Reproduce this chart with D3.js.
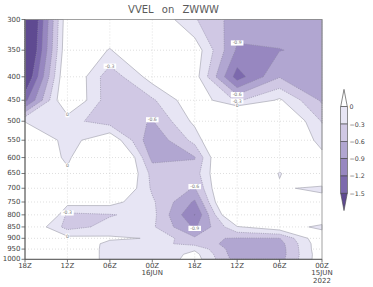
<!DOCTYPE html>
<html><head><meta charset="utf-8">
<script src="https://cdn.jsdelivr.net/npm/d3@7"></script>
<style>body{margin:0;background:#fff;} svg{display:block;}</style>
</head><body>
<svg id="chart" width="373" height="287"></svg>
<script>
// ---------- data ----------
const levels = [300,350,400,450,500,550,600,650,700,750,800,850,900,925,950,975,1000];
const yTickValues = [300,350,400,450,500,550,600,650,700,750,800,850,900,950,1000];
const times = ["2022-06-16T18:00Z","2022-06-16T12:00Z","2022-06-16T06:00Z","2022-06-16T00:00Z",
               "2022-06-15T18:00Z","2022-06-15T12:00Z","2022-06-15T06:00Z","2022-06-15T00:00Z"];
const timeLabels = ["18Z","12Z","06Z","00Z","18Z","12Z","06Z","00Z"];
const dateLabels = ["","","","16JUN","","","","15JUN"];
const yearLabels = ["","","","","","","","2022"];

// VVEL (Pa/s) per time column, levels top (300) to bottom (1000)
const vvel_16Jun18Z = [-2.3,-2.2,-1.9,-1.3,-0.02,0.5,0.6,0.6,0.8,1.0,1.5,0.42,0.5,0.5,0.5,0.5,0.5];
const vvel_16Jun12Z = [0.25,0.3,0.4,0.42,-0.2,-0.15,-0.1,0.1,0.4,0.14,-0.38,-0.42,0.1,0.3,0.3,0.3,0.3];
const vvel_16Jun06Z = [0.3,-0.02,-0.5,-0.5,-0.45,0.3,1.0,0.8,0.6,0.12,-0.32,-0.2,0.05,-0.09,-0.1,-0.1,-0.1];
const vvel_16Jun00Z = [0.3,0.4,0.14,-0.35,-0.62,-0.85,-0.7,-0.4,-0.35,-0.25,-0.2,-0.25,-0.02,-0.2,-0.25,-0.28,-0.28];
const vvel_15Jun18Z = [-0.27,0.2,0.15,0.25,0.08,-0.2,-0.62,-0.45,-0.62,-0.95,-1.22,-0.95,-0.55,-0.4,-0.05,0.1,0.15];
const vvel_15Jun12Z = [-0.75,-0.95,-1.35,-0.35,1.0,1.0,1.0,0.8,0.9,1.0,0.68,-0.03,-0.62,-0.75,-0.8,-0.8,-0.75];
const vvel_15Jun06Z = [-0.75,-0.91,-0.62,0.05,0.5,0.5,0.3,-0.03,0.06,0.3,0.4,0.22,-0.61,-0.72,-0.75,-0.75,-0.72];
const vvel_15Jun00Z = [-0.8,-0.82,-0.8,-0.65,-0.32,-0.12,0.1,0.57,-0.1,0.2,0.4,-0.1,0.3,0.25,0.25,0.22,0.22];

const contourLevels = [0,-0.3,-0.6,-0.9,-1.2,-1.5];
const bandColors = ["#e7e5f4","#d0c8e4","#b1a6d1","#9787c0","#7c69ad","#5f4a91"];
const colorbarLabels = ["0","\u22120.3","\u22120.6","\u22120.9","\u22121.2","\u22121.5"];

// contour labels: column index, contour level, approximate pressure where it is written
const labelCols   = [2,3,5,5,5,5,4,4,1,1,1,1];
const labelLevels = [-0.3,-0.6,-0.9,-0.6,-0.3,0,-0.6,-0.9,-0.3,0,0,0];
const labelNearP  = [380,500,340,435,455,465,700,860,790,480,625,890];

// ---------- drawing ----------
const columns = [vvel_16Jun18Z,vvel_16Jun12Z,vvel_16Jun06Z,vvel_16Jun00Z,
                 vvel_15Jun18Z,vvel_15Jun12Z,vvel_15Jun06Z,vvel_15Jun00Z];
const tDates = times.map(t => new Date(t));
const svg = d3.select("#chart");
const L = 25, R = 322, T = 19.5, B = 259.3;
const x = d3.scaleUtc().domain([tDates[0], tDates[tDates.length-1]]).range([L, R]);
const y = d3.scaleLog().domain([1000, 300]).range([B, T]);

const nx = columns.length, ny = levels.length;
const grid = new Array(nx*ny);
for (let r = 0; r < ny; r++) for (let c = 0; c < nx; c++) grid[r*nx + c] = -columns[c][r];

const t0 = tDates[0].getTime(), step = tDates[1].getTime() - tDates[0].getTime();
function gx(cx) { const i = Math.max(0, Math.min(nx-1, cx - 0.5)); return x(new Date(t0 + i*step)); }
function gy(cy) {
  const r = Math.max(0, Math.min(ny-1, cy - 0.5));
  const i0 = Math.min(Math.floor(r), ny-2), f = r - i0;
  return y(levels[i0] + f*(levels[i0+1] - levels[i0]));
}
const path = d3.geoPath(d3.geoTransform({ point(px, py) { this.stream.point(gx(px), gy(py)); } }));

// grid lines (under fills)
const gridG = svg.append("g").attr("stroke", "#c9c9c9").attr("stroke-width", 0.6).attr("stroke-dasharray", "1,2");
tDates.slice(1, -1).forEach(d => gridG.append("line").attr("x1", x(d)).attr("x2", x(d)).attr("y1", T).attr("y2", B));
yTickValues.filter(v => v !== 300 && v !== 1000).forEach(v =>
  gridG.append("line").attr("x1", L).attr("x2", R).attr("y1", y(v)).attr("y2", y(v)));

const bands = d3.contours().size([nx, ny]).thresholds(contourLevels.map(v => -v))(grid);
const fillG = svg.append("g");
bands.forEach((b, i) => {
  fillG.append("path").attr("d", path(b)).attr("fill", bandColors[i]).attr("fill-rule", "evenodd");
});
const lineG = svg.append("g").attr("fill", "none");
bands.forEach((b, i) => {
  const p = lineG.append("path").attr("d", path(b));
  if (i === 0) p.attr("stroke", "#a9a9b4").attr("stroke-width", 0.7);
  else p.attr("stroke", "#8f8aa3").attr("stroke-width", 0.6).attr("stroke-dasharray", "1.2,1");
});

// contour labels
function crossing(col, level, nearP) {
  let best = null;
  for (let r = 0; r < ny-1; r++) {
    const v0 = col[r], v1 = col[r+1];
    if ((v0 - level)*(v1 - level) <= 0 && v0 !== v1) {
      const f = (level - v0)/(v1 - v0);
      const p = levels[r] + f*(levels[r+1] - levels[r]);
      if (best === null || Math.abs(p - nearP) < Math.abs(best - nearP)) best = p;
    }
  }
  return best;
}
const labG = svg.append("g").attr("font-family", "DejaVu Sans, sans-serif").attr("font-size", 4.6);
labelCols.forEach((c, i) => {
  const p = crossing(columns[c], labelLevels[i], labelNearP[i]);
  if (p === null) return;
  const cx = x(tDates[c]), cy = y(p);
  const txt = labelLevels[i] === 0 ? "0" : "-" + Math.abs(labelLevels[i]).toFixed(1);
  const w = txt.length * 2.9 + 1;
  labG.append("rect").attr("x", cx - w/2).attr("y", cy - 2.6).attr("width", w).attr("height", 5.2).attr("fill", "#fff");
  labG.append("text").attr("x", cx).attr("y", cy).attr("text-anchor", "middle").attr("dominant-baseline", "central")
    .attr("fill", "#777").text(txt);
});

// frame
svg.append("rect").attr("x", L).attr("y", T).attr("width", R - L).attr("height", B - T)
  .attr("fill", "none").attr("stroke", "#8a8a8a").attr("stroke-width", 0.8);

// axes
const axG = svg.append("g").attr("font-family", "DejaVu Sans, sans-serif").attr("font-size", 7).attr("fill", "#444");
axG.append("line").attr("x1", L).attr("x2", L).attr("y1", T).attr("y2", B).attr("stroke", "#555").attr("stroke-width", 0.9);
axG.append("line").attr("x1", L).attr("x2", R).attr("y1", B).attr("y2", B).attr("stroke", "#555").attr("stroke-width", 0.9);
yTickValues.forEach(v => {
  axG.append("line").attr("x1", L - 3.5).attr("x2", L).attr("y1", y(v)).attr("y2", y(v)).attr("stroke", "#555").attr("stroke-width", 0.8);
  axG.append("text").attr("x", L - 4.5).attr("y", y(v)).attr("text-anchor", "end").attr("dominant-baseline", "central").text(v);
});
tDates.forEach((d, i) => {
  const px = x(d);
  axG.append("line").attr("x1", px).attr("x2", px).attr("y1", B).attr("y2", B + 3).attr("stroke", "#555").attr("stroke-width", 0.8);
  axG.append("text").attr("x", px).attr("y", B + 8.2).attr("text-anchor", "middle").text(timeLabels[i]);
  if (dateLabels[i]) axG.append("text").attr("x", px).attr("y", B + 15.6).attr("text-anchor", "middle").text(dateLabels[i]);
  if (yearLabels[i]) axG.append("text").attr("x", px).attr("y", B + 23.2).attr("text-anchor", "middle").text(yearLabels[i]);
});

// title
svg.append("text").attr("x", (L + R)/2).attr("y", 13).attr("text-anchor", "middle")
  .attr("font-family", "DejaVu Sans, sans-serif").attr("font-size", 10).attr("fill", "#5a5a5a")
  .style("word-spacing", "5px").text("VVEL on ZWWW");

// colorbar
const cbX0 = 340.7, cbX1 = 347.3, cbMid = (cbX0 + cbX1)/2;
const cbY = d3.scaleLinear().domain([0, -1.5]).range([106.7, 193.3]);
const cbG = svg.append("g");
const triH = 17.3;
cbG.append("path").attr("d", `M${cbX0},${cbY(0)}L${cbMid},${cbY(0) - triH}L${cbX1},${cbY(0)}Z`)
  .attr("fill", "#fff").attr("stroke", "#555").attr("stroke-width", 0.7);
contourLevels.slice(0, -1).forEach((v, i) => {
  cbG.append("rect").attr("x", cbX0).attr("y", cbY(v)).attr("width", cbX1 - cbX0)
    .attr("height", cbY(contourLevels[i+1]) - cbY(v)).attr("fill", bandColors[i])
    .attr("stroke", "#444").attr("stroke-width", 0.6);
});
cbG.append("path").attr("d", `M${cbX0},${cbY(-1.5)}L${cbMid},${cbY(-1.5) + triH}L${cbX1},${cbY(-1.5)}Z`)
  .attr("fill", bandColors[bandColors.length-1]).attr("stroke", "#444").attr("stroke-width", 0.6);
contourLevels.forEach((v, i) => {
  cbG.append("text").attr("x", 349.5).attr("y", cbY(v)).attr("dominant-baseline", "central")
    .attr("font-family", "DejaVu Sans, sans-serif").attr("font-size", 6.3).attr("fill", "#444").text(colorbarLabels[i]);
});
</script>
</body></html>
